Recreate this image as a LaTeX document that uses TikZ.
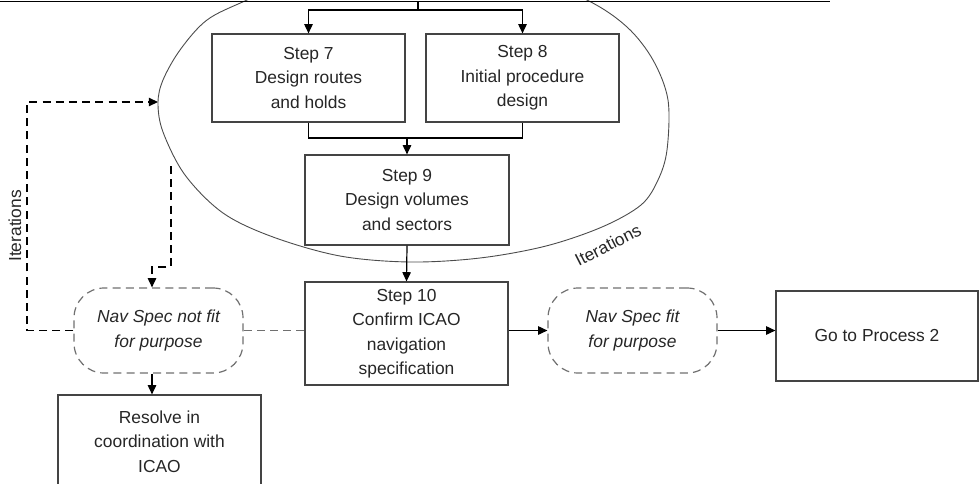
\documentclass[tikz,border=0pt]{standalone}
\usepackage{fontspec}
\setmainfont{Liberation Sans}
\usetikzlibrary{arrows.meta}
\definecolor{boxline}{HTML}{444444}
\definecolor{dashline}{HTML}{707070}
\definecolor{txt}{HTML}{262626}
\newcommand{\lbl}{\fontsize{8.7}{12.25}\selectfont}
\tikzset{
  stepbox/.style={draw=boxline, line width=0.6pt, inner sep=0pt, align=center,
                  font=\lbl, text=txt},
  decision/.style={draw=dashline, line width=0.6pt, dash pattern=on 4pt off 2.6pt,
                   rounded corners=15pt, inner sep=0pt, align=center,
                   font=\lbl\itshape, text=txt,
                   minimum width=84.5pt, minimum height=42.5pt},
  flow/.style={line width=0.6pt, -{Triangle[length=4.6pt,width=4.2pt]}},
  plain/.style={line width=0.6pt},
  loopline/.style={line width=0.6pt, dash pattern=on 4pt off 2.6pt},
  iterlabel/.style={font=\lbl, text=txt, inner sep=0pt}
}
\begin{document}
\begin{tikzpicture}[x=0.5pt, y=-0.5pt]
\useasboundingbox (0,0) rectangle (980,483);
\clip (0,0) rectangle (980,483);

% iteration loop around steps 7 to 9
\draw[line width=0.45pt, draw=black!70] plot[smooth cycle, tension=0.55] coordinates {
  (417,-45) (510,-32) (587,0) (627,27) (653,60) (668,100) (667,150)
  (658,180) (641,205) (602,227) (546,246) (480,258) (410,262) (340,256)
  (273,237) (223,213) (185,175) (163,132) (158,103) (163,80) (180,50)
  (207,20) (247,0) (320,-32)};
\node[iterlabel, rotate=27] at (608,245) {Iterations};

% process steps
\node[stepbox, minimum width=96.5pt, minimum height=44pt] (s7) at (308.5,78)
  {Step 7\\Design routes\\and holds};
\node[stepbox, minimum width=96.5pt, minimum height=44pt] (s8) at (522.5,78)
  {Step 8\\Initial procedure\\design};
\node[stepbox, minimum width=102pt, minimum height=45pt] (s9) at (407,200)
  {Step 9\\Design volumes\\and sectors};
\node[stepbox, minimum width=101.5pt, minimum height=51.5pt] (s10) at (406.5,333.5)
  {Step 10\\Confirm ICAO\\navigation\\specification};
\node[stepbox, minimum width=101pt, minimum height=45pt] (go) at (877,336)
  {Go to Process 2};
\node[stepbox, minimum width=101.5pt, minimum height=46.5pt] (res) at (159.5,441.5)
  {Resolve in\\coordination with\\ICAO};

% outcomes of step 10
\node[decision] (nf) at (158.5,330.5) {Nav Spec not fit\\for purpose};
\node[decision] (fit) at (632.5,330.5) {Nav Spec fit\\for purpose};

% incoming line and fork to steps 7 and 8
\coordinate (topL) at (0,1.5);
\coordinate (topR) at (830,1.5);
\coordinate (split) at (418,1.5);
\coordinate (fork) at (418,10);
\draw[line width=0.8pt] (topL) -- (topR);
\draw[plain] (split) -- (fork);
\draw[flow] (fork) -| (s7.north);
\draw[flow] (fork) -| (s8.north);

% steps 7 and 8 merge into step 9
\coordinate (merge) at (407,138);
\draw[plain] (s7.south) |- (merge) -| (s8.south);
\draw[flow] (merge) -- (s9.north);
\draw[flow] (s9.south) -- (s10.north);

% step 10 outcomes
\draw[flow] (s10.east |- fit.west) -- (fit.west);
\draw[flow] (fit.east) -- (go.west |- fit.east);
\draw[draw=dashline, loopline] (nf.east) -- (s10.west |- nf.east);
\draw[flow] ([xshift=-3.25pt]nf.south) -- ([xshift=-3.25pt]nf.south |- res.north);

% iteration feedback
\coordinate (loopOut) at (171,166);
\coordinate (loopBend) at (171,267);
\draw[loopline, flow] (loopOut) -- (loopBend) -| ([xshift=-3.25pt]nf.north);
\coordinate (loopTop) at (27,102);
\coordinate (loopIn) at (158,102);
\draw[loopline, flow] (nf.west) -| (loopTop) -- (loopIn);
\node[iterlabel, rotate=90] at (15,226) {Iterations};
\end{tikzpicture}
\end{document}
